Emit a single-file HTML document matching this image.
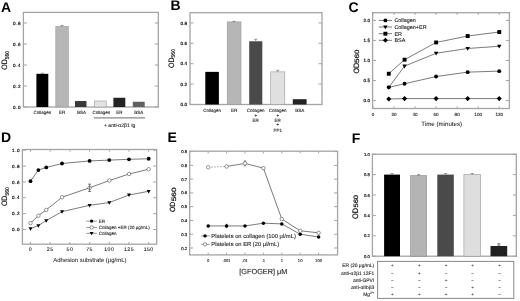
<!DOCTYPE html>
<html><head><meta charset="utf-8"><style>
html,body{margin:0;padding:0;background:#fff;width:520px;height:301px;overflow:hidden}
svg{display:block;font-family:"Liberation Sans", sans-serif;will-change:transform;text-rendering:geometricPrecision}
text.t{stroke:#222;stroke-width:0.1px}
</style></head><body>
<svg width="520" height="301" viewBox="0 0 520 301">
<rect width="520" height="301" fill="#fff"/>
<text x="1.00" y="11.60" font-size="14" font-weight="bold" fill="#000">A</text>
<rect x="23.40" y="12.40" width="134.90" height="94.60" fill="none" stroke="#a4a4a4" stroke-width="1.3"/>
<line x1="23.40" y1="107.00" x2="26.90" y2="107.00" stroke="#a4a4a4" stroke-width="1.0"/>
<line x1="158.30" y1="107.00" x2="154.80" y2="107.00" stroke="#a4a4a4" stroke-width="1.0"/>
<text class="t" x="21.00" y="108.66" font-size="4.6" text-anchor="end" fill="#000" font-weight="normal" letter-spacing="0.5" style="stroke:#000;stroke-width:0.16px">0.0</text>
<line x1="23.40" y1="86.00" x2="26.90" y2="86.00" stroke="#a4a4a4" stroke-width="1.0"/>
<line x1="158.30" y1="86.00" x2="154.80" y2="86.00" stroke="#a4a4a4" stroke-width="1.0"/>
<text class="t" x="21.00" y="87.66" font-size="4.6" text-anchor="end" fill="#000" font-weight="normal" letter-spacing="0.5" style="stroke:#000;stroke-width:0.16px">0.2</text>
<line x1="23.40" y1="65.00" x2="26.90" y2="65.00" stroke="#a4a4a4" stroke-width="1.0"/>
<line x1="158.30" y1="65.00" x2="154.80" y2="65.00" stroke="#a4a4a4" stroke-width="1.0"/>
<text class="t" x="21.00" y="66.66" font-size="4.6" text-anchor="end" fill="#000" font-weight="normal" letter-spacing="0.5" style="stroke:#000;stroke-width:0.16px">0.4</text>
<line x1="23.40" y1="44.00" x2="26.90" y2="44.00" stroke="#a4a4a4" stroke-width="1.0"/>
<line x1="158.30" y1="44.00" x2="154.80" y2="44.00" stroke="#a4a4a4" stroke-width="1.0"/>
<text class="t" x="21.00" y="45.66" font-size="4.6" text-anchor="end" fill="#000" font-weight="normal" letter-spacing="0.5" style="stroke:#000;stroke-width:0.16px">0.6</text>
<line x1="23.40" y1="23.00" x2="26.90" y2="23.00" stroke="#a4a4a4" stroke-width="1.0"/>
<line x1="158.30" y1="23.00" x2="154.80" y2="23.00" stroke="#a4a4a4" stroke-width="1.0"/>
<text class="t" x="21.00" y="24.66" font-size="4.6" text-anchor="end" fill="#000" font-weight="normal" letter-spacing="0.5" style="stroke:#000;stroke-width:0.16px">0.8</text>
<text transform="translate(7.40,60.30) rotate(-90) scale(1,1.12)" font-size="7.0" fill="#111" stroke="#111" stroke-width="0.15" text-anchor="middle">OD<tspan font-size="5.0" dy="1.2">560</tspan></text>
<rect x="36.40" y="73.82" width="11.90" height="33.18" fill="#000"/>
<rect x="55.80" y="26.47" width="12.50" height="80.53" fill="#b6b6b6" stroke="#999" stroke-width="0.6"/>
<rect x="75.00" y="101.02" width="11.50" height="5.98" fill="#3a3a3a"/>
<rect x="94.30" y="101.02" width="11.90" height="5.98" fill="#e4e4e4" stroke="#999" stroke-width="0.6"/>
<rect x="113.40" y="97.76" width="11.90" height="9.24" fill="#222"/>
<rect x="132.80" y="101.75" width="11.90" height="5.25" fill="#606060"/>
<line x1="42.35" y1="73.82" x2="42.35" y2="73.19" stroke="#444" stroke-width="0.5"/>
<line x1="40.75" y1="73.19" x2="43.95" y2="73.19" stroke="#444" stroke-width="0.5"/>
<line x1="61.95" y1="26.47" x2="61.95" y2="25.41" stroke="#444" stroke-width="0.5"/>
<line x1="60.35" y1="25.41" x2="63.55" y2="25.41" stroke="#444" stroke-width="0.5"/>
<text class="t" x="42.35" y="113.80" font-size="4.5" text-anchor="middle" fill="#222" font-weight="normal" >Collagen</text>
<text class="t" x="62.05" y="113.80" font-size="4.5" text-anchor="middle" fill="#222" font-weight="normal" >ER</text>
<text class="t" x="81.55" y="113.80" font-size="4.5" text-anchor="middle" fill="#222" font-weight="normal" >BSA</text>
<text class="t" x="101.45" y="113.80" font-size="4.5" text-anchor="middle" fill="#222" font-weight="normal" >Collagen</text>
<text class="t" x="119.35" y="113.80" font-size="4.5" text-anchor="middle" fill="#222" font-weight="normal" >ER</text>
<text class="t" x="138.75" y="113.80" font-size="4.5" text-anchor="middle" fill="#222" font-weight="normal" >BSA</text>
<line x1="93.80" y1="117.80" x2="145.10" y2="117.80" stroke="#888" stroke-width="1.2"/>
<text class="t" x="119.70" y="126.80" font-size="5.1" text-anchor="middle" fill="#222" font-weight="normal" >+ anti-α2β1 Ig</text>
<text x="170.50" y="10.20" font-size="14" font-weight="bold" fill="#000">B</text>
<rect x="190.00" y="12.70" width="132.00" height="91.80" fill="none" stroke="#a4a4a4" stroke-width="1.3"/>
<line x1="190.00" y1="104.50" x2="193.50" y2="104.50" stroke="#a4a4a4" stroke-width="1.0"/>
<line x1="322.00" y1="104.50" x2="318.50" y2="104.50" stroke="#a4a4a4" stroke-width="1.0"/>
<text class="t" x="187.00" y="106.16" font-size="4.6" text-anchor="end" fill="#000" font-weight="normal" style="stroke:#000;stroke-width:0.16px">0.0</text>
<line x1="190.00" y1="84.10" x2="193.50" y2="84.10" stroke="#a4a4a4" stroke-width="1.0"/>
<line x1="322.00" y1="84.10" x2="318.50" y2="84.10" stroke="#a4a4a4" stroke-width="1.0"/>
<text class="t" x="187.00" y="85.76" font-size="4.6" text-anchor="end" fill="#000" font-weight="normal" style="stroke:#000;stroke-width:0.16px">0.2</text>
<line x1="190.00" y1="63.70" x2="193.50" y2="63.70" stroke="#a4a4a4" stroke-width="1.0"/>
<line x1="322.00" y1="63.70" x2="318.50" y2="63.70" stroke="#a4a4a4" stroke-width="1.0"/>
<text class="t" x="187.00" y="65.36" font-size="4.6" text-anchor="end" fill="#000" font-weight="normal" style="stroke:#000;stroke-width:0.16px">0.4</text>
<line x1="190.00" y1="43.30" x2="193.50" y2="43.30" stroke="#a4a4a4" stroke-width="1.0"/>
<line x1="322.00" y1="43.30" x2="318.50" y2="43.30" stroke="#a4a4a4" stroke-width="1.0"/>
<text class="t" x="187.00" y="44.96" font-size="4.6" text-anchor="end" fill="#000" font-weight="normal" style="stroke:#000;stroke-width:0.16px">0.6</text>
<line x1="190.00" y1="22.90" x2="193.50" y2="22.90" stroke="#a4a4a4" stroke-width="1.0"/>
<line x1="322.00" y1="22.90" x2="318.50" y2="22.90" stroke="#a4a4a4" stroke-width="1.0"/>
<text class="t" x="187.00" y="24.56" font-size="4.6" text-anchor="end" fill="#000" font-weight="normal" style="stroke:#000;stroke-width:0.16px">0.8</text>
<text transform="translate(173.80,58.50) rotate(-90) scale(1,1.12)" font-size="7.0" fill="#111" stroke="#111" stroke-width="0.15" text-anchor="middle">OD<tspan font-size="5.0" dy="1.2">560</tspan></text>
<rect x="205.30" y="71.86" width="13.60" height="32.64" fill="#000"/>
<rect x="227.20" y="21.88" width="13.80" height="82.62" fill="#b6b6b6" stroke="#999" stroke-width="0.6"/>
<rect x="249.20" y="41.26" width="13.10" height="63.24" fill="#4a4a4a"/>
<rect x="270.70" y="71.86" width="14.10" height="32.64" fill="#e0e0e0" stroke="#999" stroke-width="0.6"/>
<rect x="292.80" y="99.20" width="13.80" height="5.30" fill="#222"/>
<line x1="234.10" y1="21.88" x2="234.10" y2="21.37" stroke="#444" stroke-width="0.5"/>
<line x1="232.50" y1="21.37" x2="235.70" y2="21.37" stroke="#444" stroke-width="0.5"/>
<line x1="255.75" y1="41.26" x2="255.75" y2="39.22" stroke="#444" stroke-width="0.5"/>
<line x1="254.15" y1="39.22" x2="257.35" y2="39.22" stroke="#444" stroke-width="0.5"/>
<line x1="277.75" y1="71.86" x2="277.75" y2="70.33" stroke="#444" stroke-width="0.5"/>
<line x1="276.15" y1="70.33" x2="279.35" y2="70.33" stroke="#444" stroke-width="0.5"/>
<text class="t" x="212.10" y="112.10" font-size="4.5" text-anchor="middle" fill="#222" font-weight="normal" >Collagen</text>
<text class="t" x="234.10" y="112.10" font-size="4.5" text-anchor="middle" fill="#222" font-weight="normal" >ER</text>
<text class="t" x="255.75" y="112.10" font-size="4.5" text-anchor="middle" fill="#222" font-weight="normal" >Collagen</text>
<text class="t" x="255.75" y="116.60" font-size="4.5" text-anchor="middle" fill="#222" font-weight="normal" >+</text>
<text class="t" x="255.75" y="121.80" font-size="4.5" text-anchor="middle" fill="#222" font-weight="normal" >ER</text>
<text class="t" x="277.75" y="112.10" font-size="4.5" text-anchor="middle" fill="#222" font-weight="normal" >Collagen</text>
<text class="t" x="277.75" y="116.60" font-size="4.5" text-anchor="middle" fill="#222" font-weight="normal" >+</text>
<text class="t" x="277.75" y="121.80" font-size="4.5" text-anchor="middle" fill="#222" font-weight="normal" >ER</text>
<text class="t" x="277.75" y="126.00" font-size="4.5" text-anchor="middle" fill="#222" font-weight="normal" >+</text>
<text class="t" x="277.75" y="131.60" font-size="4.5" text-anchor="middle" fill="#222" font-weight="normal" >PP1</text>
<text class="t" x="299.70" y="112.10" font-size="4.5" text-anchor="middle" fill="#222" font-weight="normal" >BSA</text>
<text x="348.60" y="11.60" font-size="14" font-weight="bold" fill="#000">C</text>
<rect x="372.60" y="12.70" width="136.80" height="95.80" fill="none" stroke="#a4a4a4" stroke-width="1.3"/>
<line x1="372.60" y1="100.60" x2="376.10" y2="100.60" stroke="#a4a4a4" stroke-width="1.0"/>
<line x1="509.40" y1="100.60" x2="505.90" y2="100.60" stroke="#a4a4a4" stroke-width="1.0"/>
<text class="t" x="370.00" y="102.26" font-size="4.6" text-anchor="end" fill="#000" font-weight="normal" style="stroke:#000;stroke-width:0.16px">0.0</text>
<line x1="372.60" y1="80.55" x2="376.10" y2="80.55" stroke="#a4a4a4" stroke-width="1.0"/>
<line x1="509.40" y1="80.55" x2="505.90" y2="80.55" stroke="#a4a4a4" stroke-width="1.0"/>
<text class="t" x="370.00" y="82.21" font-size="4.6" text-anchor="end" fill="#000" font-weight="normal" style="stroke:#000;stroke-width:0.16px">0.5</text>
<line x1="372.60" y1="60.50" x2="376.10" y2="60.50" stroke="#a4a4a4" stroke-width="1.0"/>
<line x1="509.40" y1="60.50" x2="505.90" y2="60.50" stroke="#a4a4a4" stroke-width="1.0"/>
<text class="t" x="370.00" y="62.16" font-size="4.6" text-anchor="end" fill="#000" font-weight="normal" style="stroke:#000;stroke-width:0.16px">1.0</text>
<line x1="372.60" y1="40.45" x2="376.10" y2="40.45" stroke="#a4a4a4" stroke-width="1.0"/>
<line x1="509.40" y1="40.45" x2="505.90" y2="40.45" stroke="#a4a4a4" stroke-width="1.0"/>
<text class="t" x="370.00" y="42.11" font-size="4.6" text-anchor="end" fill="#000" font-weight="normal" style="stroke:#000;stroke-width:0.16px">1.5</text>
<line x1="372.60" y1="20.40" x2="376.10" y2="20.40" stroke="#a4a4a4" stroke-width="1.0"/>
<line x1="509.40" y1="20.40" x2="505.90" y2="20.40" stroke="#a4a4a4" stroke-width="1.0"/>
<text class="t" x="370.00" y="22.06" font-size="4.6" text-anchor="end" fill="#000" font-weight="normal" style="stroke:#000;stroke-width:0.16px">2.0</text>
<line x1="373.00" y1="108.50" x2="373.00" y2="106.30" stroke="#a4a4a4" stroke-width="1.0"/>
<line x1="373.00" y1="12.70" x2="373.00" y2="14.90" stroke="#a4a4a4" stroke-width="1.0"/>
<text class="t" x="373.00" y="115.60" font-size="4.6" text-anchor="middle" fill="#222" font-weight="normal" >0</text>
<line x1="394.04" y1="108.50" x2="394.04" y2="106.30" stroke="#a4a4a4" stroke-width="1.0"/>
<line x1="394.04" y1="12.70" x2="394.04" y2="14.90" stroke="#a4a4a4" stroke-width="1.0"/>
<text class="t" x="394.04" y="115.60" font-size="4.6" text-anchor="middle" fill="#222" font-weight="normal" >20</text>
<line x1="415.08" y1="108.50" x2="415.08" y2="106.30" stroke="#a4a4a4" stroke-width="1.0"/>
<line x1="415.08" y1="12.70" x2="415.08" y2="14.90" stroke="#a4a4a4" stroke-width="1.0"/>
<text class="t" x="415.08" y="115.60" font-size="4.6" text-anchor="middle" fill="#222" font-weight="normal" >40</text>
<line x1="436.12" y1="108.50" x2="436.12" y2="106.30" stroke="#a4a4a4" stroke-width="1.0"/>
<line x1="436.12" y1="12.70" x2="436.12" y2="14.90" stroke="#a4a4a4" stroke-width="1.0"/>
<text class="t" x="436.12" y="115.60" font-size="4.6" text-anchor="middle" fill="#222" font-weight="normal" >60</text>
<line x1="457.16" y1="108.50" x2="457.16" y2="106.30" stroke="#a4a4a4" stroke-width="1.0"/>
<line x1="457.16" y1="12.70" x2="457.16" y2="14.90" stroke="#a4a4a4" stroke-width="1.0"/>
<text class="t" x="457.16" y="115.60" font-size="4.6" text-anchor="middle" fill="#222" font-weight="normal" >80</text>
<line x1="478.20" y1="108.50" x2="478.20" y2="106.30" stroke="#a4a4a4" stroke-width="1.0"/>
<line x1="478.20" y1="12.70" x2="478.20" y2="14.90" stroke="#a4a4a4" stroke-width="1.0"/>
<text class="t" x="478.20" y="115.60" font-size="4.6" text-anchor="middle" fill="#222" font-weight="normal" >100</text>
<line x1="499.24" y1="108.50" x2="499.24" y2="106.30" stroke="#a4a4a4" stroke-width="1.0"/>
<line x1="499.24" y1="12.70" x2="499.24" y2="14.90" stroke="#a4a4a4" stroke-width="1.0"/>
<text class="t" x="499.24" y="115.60" font-size="4.6" text-anchor="middle" fill="#222" font-weight="normal" >120</text>
<text transform="translate(358.50,73.60) rotate(-90) scale(1,1.08)" font-size="7.2" fill="#111" stroke="#111" stroke-width="0.2">OD</text>
<text transform="translate(358.50,63.10) rotate(-90) scale(1,0.78)" font-size="8.0" fill="#111" stroke="#111" stroke-width="0.3" textLength="13.6" lengthAdjust="spacingAndGlyphs">560</text>
<text class="t" x="441.70" y="125.80" font-size="6.15" text-anchor="middle" fill="#222" font-weight="normal" style="stroke-width:0.05px">Time (minutes)</text>
<path d="M388.78,73.73 L404.56,59.70 L436.12,42.45 L467.68,36.04 L499.24,32.03" fill="none" stroke="#333" stroke-width="0.65"/>
<rect x="386.83" y="71.78" width="3.90" height="3.90" fill="#000"/>
<rect x="402.61" y="57.75" width="3.90" height="3.90" fill="#000"/>
<rect x="434.17" y="40.50" width="3.90" height="3.90" fill="#000"/>
<rect x="465.73" y="34.09" width="3.90" height="3.90" fill="#000"/>
<rect x="497.29" y="30.08" width="3.90" height="3.90" fill="#000"/>
<path d="M388.78,87.37 L404.56,66.11 L436.12,53.28 L467.68,48.47 L499.24,46.26" fill="none" stroke="#333" stroke-width="0.65"/>
<path d="M386.54,85.81 L391.02,85.81 L388.78,89.71Z" fill="#000"/>
<path d="M402.32,64.55 L406.80,64.55 L404.56,68.45Z" fill="#000"/>
<path d="M433.88,51.72 L438.36,51.72 L436.12,55.62Z" fill="#000"/>
<path d="M465.44,46.91 L469.92,46.91 L467.68,50.81Z" fill="#000"/>
<path d="M497.00,44.70 L501.48,44.70 L499.24,48.60Z" fill="#000"/>
<path d="M388.78,87.37 L404.56,83.76 L436.12,76.54 L467.68,72.13 L499.24,71.13" fill="none" stroke="#333" stroke-width="0.65"/>
<circle cx="388.78" cy="87.37" r="1.95" fill="#000"/>
<circle cx="404.56" cy="83.76" r="1.95" fill="#000"/>
<circle cx="436.12" cy="76.54" r="1.95" fill="#000"/>
<circle cx="467.68" cy="72.13" r="1.95" fill="#000"/>
<circle cx="499.24" cy="71.13" r="1.95" fill="#000"/>
<path d="M388.78,99.00 L404.56,98.59 L436.12,98.59 L467.68,98.59 L499.24,98.59" fill="none" stroke="#333" stroke-width="0.65"/>
<path d="M388.78,96.46 L391.31,99.00 L388.78,101.53 L386.24,99.00Z" fill="#000"/>
<path d="M404.56,96.06 L407.10,98.59 L404.56,101.13 L402.02,98.59Z" fill="#000"/>
<path d="M436.12,96.06 L438.66,98.59 L436.12,101.13 L433.58,98.59Z" fill="#000"/>
<path d="M467.68,96.06 L470.22,98.59 L467.68,101.13 L465.14,98.59Z" fill="#000"/>
<path d="M499.24,96.06 L501.78,98.59 L499.24,101.13 L496.70,98.59Z" fill="#000"/>
<line x1="378.80" y1="20.40" x2="392.00" y2="20.40" stroke="#333" stroke-width="0.65"/>
<circle cx="385.40" cy="20.40" r="1.95" fill="#000"/>
<text class="t" x="394.40" y="22.40" font-size="5.45" text-anchor="start" fill="#222" font-weight="normal" >Collagen</text>
<line x1="378.80" y1="27.00" x2="392.00" y2="27.00" stroke="#333" stroke-width="0.65"/>
<path d="M383.16,25.44 L387.64,25.44 L385.40,29.34Z" fill="#000"/>
<text class="t" x="394.40" y="29.00" font-size="5.45" text-anchor="start" fill="#222" font-weight="normal" >Collagen+ER</text>
<line x1="378.80" y1="33.70" x2="392.00" y2="33.70" stroke="#333" stroke-width="0.65"/>
<rect x="383.45" y="31.75" width="3.90" height="3.90" fill="#000"/>
<text class="t" x="394.40" y="35.70" font-size="5.45" text-anchor="start" fill="#222" font-weight="normal" >ER</text>
<line x1="378.80" y1="40.30" x2="392.00" y2="40.30" stroke="#333" stroke-width="0.65"/>
<path d="M385.40,37.77 L387.94,40.30 L385.40,42.83 L382.86,40.30Z" fill="#000"/>
<text class="t" x="394.40" y="42.30" font-size="5.45" text-anchor="start" fill="#222" font-weight="normal" >BSA</text>
<text x="1.00" y="141.90" font-size="14" font-weight="bold" fill="#000">D</text>
<rect x="22.40" y="149.50" width="134.30" height="94.70" fill="none" stroke="#a4a4a4" stroke-width="1.3"/>
<line x1="22.40" y1="229.50" x2="25.90" y2="229.50" stroke="#a4a4a4" stroke-width="1.0"/>
<line x1="156.70" y1="229.50" x2="153.20" y2="229.50" stroke="#a4a4a4" stroke-width="1.0"/>
<text class="t" x="20.00" y="231.16" font-size="4.6" text-anchor="end" fill="#000" font-weight="normal" letter-spacing="0.5" style="stroke:#000;stroke-width:0.16px">0.0</text>
<line x1="22.40" y1="213.64" x2="25.90" y2="213.64" stroke="#a4a4a4" stroke-width="1.0"/>
<line x1="156.70" y1="213.64" x2="153.20" y2="213.64" stroke="#a4a4a4" stroke-width="1.0"/>
<text class="t" x="20.00" y="215.30" font-size="4.6" text-anchor="end" fill="#000" font-weight="normal" letter-spacing="0.5" style="stroke:#000;stroke-width:0.16px">0.2</text>
<line x1="22.40" y1="197.78" x2="25.90" y2="197.78" stroke="#a4a4a4" stroke-width="1.0"/>
<line x1="156.70" y1="197.78" x2="153.20" y2="197.78" stroke="#a4a4a4" stroke-width="1.0"/>
<text class="t" x="20.00" y="199.44" font-size="4.6" text-anchor="end" fill="#000" font-weight="normal" letter-spacing="0.5" style="stroke:#000;stroke-width:0.16px">0.4</text>
<line x1="22.40" y1="181.92" x2="25.90" y2="181.92" stroke="#a4a4a4" stroke-width="1.0"/>
<line x1="156.70" y1="181.92" x2="153.20" y2="181.92" stroke="#a4a4a4" stroke-width="1.0"/>
<text class="t" x="20.00" y="183.58" font-size="4.6" text-anchor="end" fill="#000" font-weight="normal" letter-spacing="0.5" style="stroke:#000;stroke-width:0.16px">0.6</text>
<line x1="22.40" y1="166.06" x2="25.90" y2="166.06" stroke="#a4a4a4" stroke-width="1.0"/>
<line x1="156.70" y1="166.06" x2="153.20" y2="166.06" stroke="#a4a4a4" stroke-width="1.0"/>
<text class="t" x="20.00" y="167.72" font-size="4.6" text-anchor="end" fill="#000" font-weight="normal" letter-spacing="0.5" style="stroke:#000;stroke-width:0.16px">0.8</text>
<line x1="22.40" y1="150.20" x2="25.90" y2="150.20" stroke="#a4a4a4" stroke-width="1.0"/>
<line x1="156.70" y1="150.20" x2="153.20" y2="150.20" stroke="#a4a4a4" stroke-width="1.0"/>
<text class="t" x="20.00" y="151.86" font-size="4.6" text-anchor="end" fill="#000" font-weight="normal" letter-spacing="0.5" style="stroke:#000;stroke-width:0.16px">1.0</text>
<line x1="30.50" y1="244.20" x2="30.50" y2="242.00" stroke="#a4a4a4" stroke-width="1.0"/>
<line x1="30.50" y1="149.50" x2="30.50" y2="151.70" stroke="#a4a4a4" stroke-width="1.0"/>
<text class="t" x="30.50" y="251.40" font-size="5.2" text-anchor="middle" fill="#222" font-weight="normal" letter-spacing="0.45">0</text>
<line x1="50.20" y1="244.20" x2="50.20" y2="242.00" stroke="#a4a4a4" stroke-width="1.0"/>
<line x1="50.20" y1="149.50" x2="50.20" y2="151.70" stroke="#a4a4a4" stroke-width="1.0"/>
<text class="t" x="50.20" y="251.40" font-size="5.2" text-anchor="middle" fill="#222" font-weight="normal" letter-spacing="0.45">25</text>
<line x1="69.90" y1="244.20" x2="69.90" y2="242.00" stroke="#a4a4a4" stroke-width="1.0"/>
<line x1="69.90" y1="149.50" x2="69.90" y2="151.70" stroke="#a4a4a4" stroke-width="1.0"/>
<text class="t" x="69.90" y="251.40" font-size="5.2" text-anchor="middle" fill="#222" font-weight="normal" letter-spacing="0.45">50</text>
<line x1="89.60" y1="244.20" x2="89.60" y2="242.00" stroke="#a4a4a4" stroke-width="1.0"/>
<line x1="89.60" y1="149.50" x2="89.60" y2="151.70" stroke="#a4a4a4" stroke-width="1.0"/>
<text class="t" x="89.60" y="251.40" font-size="5.2" text-anchor="middle" fill="#222" font-weight="normal" letter-spacing="0.45">75</text>
<line x1="109.30" y1="244.20" x2="109.30" y2="242.00" stroke="#a4a4a4" stroke-width="1.0"/>
<line x1="109.30" y1="149.50" x2="109.30" y2="151.70" stroke="#a4a4a4" stroke-width="1.0"/>
<text class="t" x="109.30" y="251.40" font-size="5.2" text-anchor="middle" fill="#222" font-weight="normal" letter-spacing="0.45">100</text>
<line x1="129.00" y1="244.20" x2="129.00" y2="242.00" stroke="#a4a4a4" stroke-width="1.0"/>
<line x1="129.00" y1="149.50" x2="129.00" y2="151.70" stroke="#a4a4a4" stroke-width="1.0"/>
<text class="t" x="129.00" y="251.40" font-size="5.2" text-anchor="middle" fill="#222" font-weight="normal" letter-spacing="0.45">125</text>
<line x1="148.70" y1="244.20" x2="148.70" y2="242.00" stroke="#a4a4a4" stroke-width="1.0"/>
<line x1="148.70" y1="149.50" x2="148.70" y2="151.70" stroke="#a4a4a4" stroke-width="1.0"/>
<text class="t" x="148.70" y="251.40" font-size="5.2" text-anchor="middle" fill="#222" font-weight="normal" letter-spacing="0.45">150</text>
<text transform="translate(7.40,196.70) rotate(-90) scale(1,1.12)" font-size="7.0" fill="#111" stroke="#111" stroke-width="0.15" text-anchor="middle">OD<tspan font-size="5.0" dy="1.2">560</tspan></text>
<text class="t" x="89.90" y="262.40" font-size="5.95" text-anchor="middle" fill="#222" font-weight="normal" style="stroke-width:0.05px">Adhesion substrate (μg/mL)</text>
<path d="M30.50,181.13 L38.38,170.03 L46.26,167.41 L62.02,163.52 L89.60,160.91 L109.30,160.11 L129.00,159.32 L148.70,158.76" fill="none" stroke="#333" stroke-width="0.65"/>
<circle cx="30.50" cy="181.13" r="1.90" fill="#000"/>
<circle cx="38.38" cy="170.03" r="1.90" fill="#000"/>
<circle cx="46.26" cy="167.41" r="1.90" fill="#000"/>
<circle cx="62.02" cy="163.52" r="1.90" fill="#000"/>
<circle cx="89.60" cy="160.91" r="1.90" fill="#000"/>
<circle cx="109.30" cy="160.11" r="1.90" fill="#000"/>
<circle cx="129.00" cy="159.32" r="1.90" fill="#000"/>
<circle cx="148.70" cy="158.76" r="1.90" fill="#000"/>
<path d="M30.50,223.16 L38.38,215.70 L46.26,209.91 L62.02,197.22 L89.60,187.79 L109.30,180.57 L129.00,173.99 L148.70,169.23" fill="none" stroke="#333" stroke-width="0.65"/>
<circle cx="30.50" cy="223.16" r="1.75" fill="#fff" stroke="#333" stroke-width="0.5"/>
<circle cx="38.38" cy="215.70" r="1.75" fill="#fff" stroke="#333" stroke-width="0.5"/>
<circle cx="46.26" cy="209.91" r="1.75" fill="#fff" stroke="#333" stroke-width="0.5"/>
<circle cx="62.02" cy="197.22" r="1.75" fill="#fff" stroke="#333" stroke-width="0.5"/>
<circle cx="89.60" cy="187.79" r="1.75" fill="#fff" stroke="#333" stroke-width="0.5"/>
<circle cx="109.30" cy="180.57" r="1.75" fill="#fff" stroke="#333" stroke-width="0.5"/>
<circle cx="129.00" cy="173.99" r="1.75" fill="#fff" stroke="#333" stroke-width="0.5"/>
<circle cx="148.70" cy="169.23" r="1.75" fill="#fff" stroke="#333" stroke-width="0.5"/>
<path d="M30.50,228.71 L38.38,225.53 L46.26,220.54 L62.02,211.66 L89.60,205.31 L109.30,202.54 L129.00,195.00 L148.70,191.28" fill="none" stroke="#333" stroke-width="0.65"/>
<path d="M28.49,227.31 L32.51,227.31 L30.50,230.81Z" fill="#000"/>
<path d="M36.37,224.13 L40.39,224.13 L38.38,227.63Z" fill="#000"/>
<path d="M44.25,219.14 L48.27,219.14 L46.26,222.64Z" fill="#000"/>
<path d="M60.01,210.26 L64.03,210.26 L62.02,213.76Z" fill="#000"/>
<path d="M87.59,203.91 L91.61,203.91 L89.60,207.41Z" fill="#000"/>
<path d="M107.29,201.14 L111.31,201.14 L109.30,204.64Z" fill="#000"/>
<path d="M126.99,193.60 L131.01,193.60 L129.00,197.10Z" fill="#000"/>
<path d="M146.69,189.88 L150.71,189.88 L148.70,193.38Z" fill="#000"/>
<line x1="89.60" y1="187.79" x2="89.60" y2="184.14" stroke="#444" stroke-width="0.7"/>
<line x1="88.10" y1="184.14" x2="91.10" y2="184.14" stroke="#444" stroke-width="0.7"/>
<line x1="89.60" y1="187.79" x2="89.60" y2="191.44" stroke="#444" stroke-width="0.7"/>
<line x1="88.10" y1="191.44" x2="91.10" y2="191.44" stroke="#444" stroke-width="0.7"/>
<line x1="86.30" y1="221.10" x2="97.00" y2="221.10" stroke="#444" stroke-width="0.55"/>
<circle cx="91.60" cy="221.10" r="1.70" fill="#000"/>
<text class="t" x="98.80" y="222.70" font-size="4.5" text-anchor="start" fill="#222" font-weight="normal" >ER</text>
<line x1="86.30" y1="227.50" x2="97.00" y2="227.50" stroke="#444" stroke-width="0.55"/>
<circle cx="91.60" cy="227.50" r="1.70" fill="#fff" stroke="#333" stroke-width="0.5"/>
<text class="t" x="98.80" y="229.10" font-size="4.5" text-anchor="start" fill="#222" font-weight="normal" >Collagen +ER (20 μg/mL)</text>
<line x1="86.30" y1="233.30" x2="97.00" y2="233.30" stroke="#444" stroke-width="0.55"/>
<path d="M89.64,231.94 L93.55,231.94 L91.60,235.34Z" fill="#000"/>
<text class="t" x="98.80" y="234.90" font-size="4.5" text-anchor="start" fill="#222" font-weight="normal" >Collagen</text>
<text x="167.50" y="141.70" font-size="14" font-weight="bold" fill="#000">E</text>
<rect x="189.70" y="151.20" width="147.90" height="103.70" fill="none" stroke="#a4a4a4" stroke-width="1.3"/>
<line x1="189.70" y1="247.99" x2="193.20" y2="247.99" stroke="#a4a4a4" stroke-width="1.0"/>
<line x1="337.60" y1="247.99" x2="334.10" y2="247.99" stroke="#a4a4a4" stroke-width="1.0"/>
<text class="t" x="187.10" y="249.50" font-size="4.2" text-anchor="end" fill="#000" font-weight="normal" style="stroke:#000;stroke-width:0.16px">0.2</text>
<line x1="189.70" y1="234.22" x2="193.20" y2="234.22" stroke="#a4a4a4" stroke-width="1.0"/>
<line x1="337.60" y1="234.22" x2="334.10" y2="234.22" stroke="#a4a4a4" stroke-width="1.0"/>
<text class="t" x="187.10" y="235.73" font-size="4.2" text-anchor="end" fill="#000" font-weight="normal" style="stroke:#000;stroke-width:0.16px">0.3</text>
<line x1="189.70" y1="220.45" x2="193.20" y2="220.45" stroke="#a4a4a4" stroke-width="1.0"/>
<line x1="337.60" y1="220.45" x2="334.10" y2="220.45" stroke="#a4a4a4" stroke-width="1.0"/>
<text class="t" x="187.10" y="221.96" font-size="4.2" text-anchor="end" fill="#000" font-weight="normal" style="stroke:#000;stroke-width:0.16px">0.4</text>
<line x1="189.70" y1="206.68" x2="193.20" y2="206.68" stroke="#a4a4a4" stroke-width="1.0"/>
<line x1="337.60" y1="206.68" x2="334.10" y2="206.68" stroke="#a4a4a4" stroke-width="1.0"/>
<text class="t" x="187.10" y="208.19" font-size="4.2" text-anchor="end" fill="#000" font-weight="normal" style="stroke:#000;stroke-width:0.16px">0.5</text>
<line x1="189.70" y1="192.91" x2="193.20" y2="192.91" stroke="#a4a4a4" stroke-width="1.0"/>
<line x1="337.60" y1="192.91" x2="334.10" y2="192.91" stroke="#a4a4a4" stroke-width="1.0"/>
<text class="t" x="187.10" y="194.42" font-size="4.2" text-anchor="end" fill="#000" font-weight="normal" style="stroke:#000;stroke-width:0.16px">0.6</text>
<line x1="189.70" y1="179.14" x2="193.20" y2="179.14" stroke="#a4a4a4" stroke-width="1.0"/>
<line x1="337.60" y1="179.14" x2="334.10" y2="179.14" stroke="#a4a4a4" stroke-width="1.0"/>
<text class="t" x="187.10" y="180.65" font-size="4.2" text-anchor="end" fill="#000" font-weight="normal" style="stroke:#000;stroke-width:0.16px">0.7</text>
<line x1="189.70" y1="165.37" x2="193.20" y2="165.37" stroke="#a4a4a4" stroke-width="1.0"/>
<line x1="337.60" y1="165.37" x2="334.10" y2="165.37" stroke="#a4a4a4" stroke-width="1.0"/>
<text class="t" x="187.10" y="166.88" font-size="4.2" text-anchor="end" fill="#000" font-weight="normal" style="stroke:#000;stroke-width:0.16px">0.8</text>
<line x1="189.70" y1="151.60" x2="193.20" y2="151.60" stroke="#a4a4a4" stroke-width="1.0"/>
<line x1="337.60" y1="151.60" x2="334.10" y2="151.60" stroke="#a4a4a4" stroke-width="1.0"/>
<text class="t" x="187.10" y="153.11" font-size="4.2" text-anchor="end" fill="#000" font-weight="normal" style="stroke:#000;stroke-width:0.16px">0.9</text>
<line x1="208.20" y1="254.90" x2="208.20" y2="252.70" stroke="#a4a4a4" stroke-width="1.0"/>
<line x1="208.20" y1="151.20" x2="208.20" y2="153.40" stroke="#a4a4a4" stroke-width="1.0"/>
<text class="t" x="208.20" y="261.50" font-size="4.2" text-anchor="middle" fill="#222" font-weight="normal" >0</text>
<line x1="226.60" y1="254.90" x2="226.60" y2="252.70" stroke="#a4a4a4" stroke-width="1.0"/>
<line x1="226.60" y1="151.20" x2="226.60" y2="153.40" stroke="#a4a4a4" stroke-width="1.0"/>
<text class="t" x="226.60" y="261.50" font-size="4.2" text-anchor="middle" fill="#222" font-weight="normal" >.001</text>
<line x1="245.00" y1="254.90" x2="245.00" y2="252.70" stroke="#a4a4a4" stroke-width="1.0"/>
<line x1="245.00" y1="151.20" x2="245.00" y2="153.40" stroke="#a4a4a4" stroke-width="1.0"/>
<text class="t" x="245.00" y="261.50" font-size="4.2" text-anchor="middle" fill="#222" font-weight="normal" >.01</text>
<line x1="263.40" y1="254.90" x2="263.40" y2="252.70" stroke="#a4a4a4" stroke-width="1.0"/>
<line x1="263.40" y1="151.20" x2="263.40" y2="153.40" stroke="#a4a4a4" stroke-width="1.0"/>
<text class="t" x="263.40" y="261.50" font-size="4.2" text-anchor="middle" fill="#222" font-weight="normal" >.1</text>
<line x1="281.80" y1="254.90" x2="281.80" y2="252.70" stroke="#a4a4a4" stroke-width="1.0"/>
<line x1="281.80" y1="151.20" x2="281.80" y2="153.40" stroke="#a4a4a4" stroke-width="1.0"/>
<text class="t" x="281.80" y="261.50" font-size="4.2" text-anchor="middle" fill="#222" font-weight="normal" >1</text>
<line x1="300.20" y1="254.90" x2="300.20" y2="252.70" stroke="#a4a4a4" stroke-width="1.0"/>
<line x1="300.20" y1="151.20" x2="300.20" y2="153.40" stroke="#a4a4a4" stroke-width="1.0"/>
<text class="t" x="300.20" y="261.50" font-size="4.2" text-anchor="middle" fill="#222" font-weight="normal" >10</text>
<line x1="318.60" y1="254.90" x2="318.60" y2="252.70" stroke="#a4a4a4" stroke-width="1.0"/>
<line x1="318.60" y1="151.20" x2="318.60" y2="153.40" stroke="#a4a4a4" stroke-width="1.0"/>
<text class="t" x="318.60" y="261.50" font-size="4.2" text-anchor="middle" fill="#222" font-weight="normal" >100</text>
<text transform="translate(175.40,212.10) rotate(-90) scale(1,1.08)" font-size="6.9" fill="#111" stroke="#111" stroke-width="0.2">OD</text>
<text transform="translate(175.90,201.30) rotate(-90) scale(1,0.78)" font-size="8.0" fill="#111" stroke="#111" stroke-width="0.3" textLength="13.8" lengthAdjust="spacingAndGlyphs">560</text>
<text class="t" x="263.30" y="273.50" font-size="7.3" text-anchor="middle" fill="#222" font-weight="normal" >[GFOGER] μM</text>
<line x1="226.60" y1="225.96" x2="226.60" y2="224.31" stroke="#444" stroke-width="0.6"/>
<line x1="225.60" y1="224.31" x2="227.60" y2="224.31" stroke="#444" stroke-width="0.6"/>
<line x1="226.60" y1="225.96" x2="226.60" y2="227.61" stroke="#444" stroke-width="0.6"/>
<line x1="225.60" y1="227.61" x2="227.60" y2="227.61" stroke="#444" stroke-width="0.6"/>
<path d="M208.20,225.96 L226.60,225.96 L245.00,225.96 L263.40,223.20 L281.80,223.89 L300.20,234.22 L318.60,236.97" fill="none" stroke="#333" stroke-width="0.65"/>
<circle cx="208.20" cy="225.96" r="1.75" fill="#000"/>
<circle cx="226.60" cy="225.96" r="1.75" fill="#000"/>
<circle cx="245.00" cy="225.96" r="1.75" fill="#000"/>
<circle cx="263.40" cy="223.20" r="1.75" fill="#000"/>
<circle cx="281.80" cy="223.89" r="1.75" fill="#000"/>
<circle cx="300.20" cy="234.22" r="1.75" fill="#000"/>
<circle cx="318.60" cy="236.97" r="1.75" fill="#000"/>
<path d="M208.20,167.30 L226.60,166.47" stroke="#666" stroke-width="0.6" stroke-dasharray="1.6,1.4" fill="none"/>
<line x1="245.00" y1="163.44" x2="245.00" y2="160.96" stroke="#444" stroke-width="0.6"/>
<line x1="243.80" y1="160.96" x2="246.20" y2="160.96" stroke="#444" stroke-width="0.6"/>
<line x1="245.00" y1="163.44" x2="245.00" y2="165.92" stroke="#444" stroke-width="0.6"/>
<line x1="243.80" y1="165.92" x2="246.20" y2="165.92" stroke="#444" stroke-width="0.6"/>
<path d="M226.60,166.47 L245.00,163.44 L263.40,168.12 L281.80,219.07 L300.20,230.78 L318.60,232.84" fill="none" stroke="#333" stroke-width="0.65"/>
<circle cx="226.60" cy="166.47" r="1.75" fill="#fff" stroke="#333" stroke-width="0.5"/>
<circle cx="245.00" cy="163.44" r="1.75" fill="#fff" stroke="#333" stroke-width="0.5"/>
<circle cx="263.40" cy="168.12" r="1.75" fill="#fff" stroke="#333" stroke-width="0.5"/>
<circle cx="281.80" cy="219.07" r="1.75" fill="#fff" stroke="#333" stroke-width="0.5"/>
<circle cx="300.20" cy="230.78" r="1.75" fill="#fff" stroke="#333" stroke-width="0.5"/>
<circle cx="318.60" cy="232.84" r="1.75" fill="#fff" stroke="#333" stroke-width="0.5"/>
<circle cx="208.20" cy="167.30" r="1.75" fill="#fff" stroke="#333" stroke-width="0.5"/>
<line x1="201.00" y1="235.90" x2="209.80" y2="235.90" stroke="#444" stroke-width="0.55"/>
<circle cx="205.00" cy="235.90" r="1.70" fill="#000"/>
<text class="t" x="211.30" y="237.90" font-size="5.8" text-anchor="start" fill="#222" font-weight="normal" >Platelets on collagen (100 μl/mL)</text>
<line x1="201.00" y1="244.30" x2="209.80" y2="244.30" stroke="#444" stroke-width="0.55"/>
<circle cx="205.00" cy="244.30" r="1.70" fill="#fff" stroke="#333" stroke-width="0.5"/>
<text class="t" x="211.30" y="246.30" font-size="5.8" text-anchor="start" fill="#222" font-weight="normal" >Platelets on ER (20 μl/mL)</text>
<text x="351.80" y="143.20" font-size="14" font-weight="bold" fill="#000">F</text>
<rect x="372.40" y="154.20" width="143.90" height="102.00" fill="none" stroke="#a4a4a4" stroke-width="1.3"/>
<line x1="372.40" y1="256.20" x2="375.90" y2="256.20" stroke="#a4a4a4" stroke-width="1.0"/>
<line x1="516.30" y1="256.20" x2="512.80" y2="256.20" stroke="#a4a4a4" stroke-width="1.0"/>
<text class="t" x="369.80" y="257.71" font-size="4.2" text-anchor="end" fill="#000" font-weight="normal" style="stroke:#000;stroke-width:0.16px">0.0</text>
<line x1="372.40" y1="235.80" x2="375.90" y2="235.80" stroke="#a4a4a4" stroke-width="1.0"/>
<line x1="516.30" y1="235.80" x2="512.80" y2="235.80" stroke="#a4a4a4" stroke-width="1.0"/>
<text class="t" x="369.80" y="237.31" font-size="4.2" text-anchor="end" fill="#000" font-weight="normal" style="stroke:#000;stroke-width:0.16px">0.2</text>
<line x1="372.40" y1="215.40" x2="375.90" y2="215.40" stroke="#a4a4a4" stroke-width="1.0"/>
<line x1="516.30" y1="215.40" x2="512.80" y2="215.40" stroke="#a4a4a4" stroke-width="1.0"/>
<text class="t" x="369.80" y="216.91" font-size="4.2" text-anchor="end" fill="#000" font-weight="normal" style="stroke:#000;stroke-width:0.16px">0.4</text>
<line x1="372.40" y1="195.00" x2="375.90" y2="195.00" stroke="#a4a4a4" stroke-width="1.0"/>
<line x1="516.30" y1="195.00" x2="512.80" y2="195.00" stroke="#a4a4a4" stroke-width="1.0"/>
<text class="t" x="369.80" y="196.51" font-size="4.2" text-anchor="end" fill="#000" font-weight="normal" style="stroke:#000;stroke-width:0.16px">0.6</text>
<line x1="372.40" y1="174.60" x2="375.90" y2="174.60" stroke="#a4a4a4" stroke-width="1.0"/>
<line x1="516.30" y1="174.60" x2="512.80" y2="174.60" stroke="#a4a4a4" stroke-width="1.0"/>
<text class="t" x="369.80" y="176.11" font-size="4.2" text-anchor="end" fill="#000" font-weight="normal" style="stroke:#000;stroke-width:0.16px">0.8</text>
<line x1="372.40" y1="154.20" x2="375.90" y2="154.20" stroke="#a4a4a4" stroke-width="1.0"/>
<line x1="516.30" y1="154.20" x2="512.80" y2="154.20" stroke="#a4a4a4" stroke-width="1.0"/>
<text class="t" x="369.80" y="155.71" font-size="4.2" text-anchor="end" fill="#000" font-weight="normal" style="stroke:#000;stroke-width:0.16px">1.0</text>
<text transform="translate(358.40,219.10) rotate(-90) scale(1,1.08)" font-size="7.4" fill="#111" stroke="#111" stroke-width="0.2">OD</text>
<text transform="translate(358.40,207.60) rotate(-90) scale(1,0.78)" font-size="8.0" fill="#111" stroke="#111" stroke-width="0.3" textLength="12.7" lengthAdjust="spacingAndGlyphs">560</text>
<rect x="384.10" y="174.60" width="15.90" height="81.60" fill="#000"/>
<rect x="410.70" y="175.62" width="15.90" height="80.58" fill="#b4b4b4" stroke="#888" stroke-width="0.6"/>
<rect x="437.30" y="174.60" width="16.50" height="81.60" fill="#4a4a4a"/>
<rect x="463.90" y="174.60" width="16.70" height="81.60" fill="#dedede" stroke="#999" stroke-width="0.6"/>
<rect x="490.50" y="246.00" width="16.70" height="10.20" fill="#222"/>
<line x1="392.05" y1="174.60" x2="392.05" y2="173.58" stroke="#444" stroke-width="0.5"/>
<line x1="390.45" y1="173.58" x2="393.65" y2="173.58" stroke="#444" stroke-width="0.5"/>
<line x1="418.65" y1="175.62" x2="418.65" y2="174.60" stroke="#444" stroke-width="0.5"/>
<line x1="417.05" y1="174.60" x2="420.25" y2="174.60" stroke="#444" stroke-width="0.5"/>
<line x1="445.55" y1="174.60" x2="445.55" y2="173.58" stroke="#444" stroke-width="0.5"/>
<line x1="443.95" y1="173.58" x2="447.15" y2="173.58" stroke="#444" stroke-width="0.5"/>
<line x1="472.25" y1="174.60" x2="472.25" y2="173.58" stroke="#444" stroke-width="0.5"/>
<line x1="470.65" y1="173.58" x2="473.85" y2="173.58" stroke="#444" stroke-width="0.5"/>
<line x1="498.85" y1="246.00" x2="498.85" y2="244.98" stroke="#444" stroke-width="0.5"/>
<line x1="497.25" y1="244.98" x2="500.45" y2="244.98" stroke="#444" stroke-width="0.5"/>
<line x1="498.85" y1="246.00" x2="498.85" y2="243.45" stroke="#444" stroke-width="0.5"/>
<line x1="497.25" y1="243.45" x2="500.45" y2="243.45" stroke="#444" stroke-width="0.5"/>
<rect x="377.6" y="261.4" width="136.2" height="37.0" fill="none" stroke="#888" stroke-width="1"/>
<text class="t" x="374.20" y="267.30" font-size="4.9" text-anchor="end" fill="#222" font-weight="normal" >ER (20 μg/mL)</text>
<text class="t" x="392.30" y="267.20" font-size="4.6" text-anchor="middle" fill="#444" font-weight="normal" style="stroke-width:0.05px;stroke:#444">+</text>
<text class="t" x="419.40" y="267.20" font-size="4.6" text-anchor="middle" fill="#444" font-weight="normal" style="stroke-width:0.05px;stroke:#444">+</text>
<text class="t" x="446.20" y="267.20" font-size="4.6" text-anchor="middle" fill="#444" font-weight="normal" style="stroke-width:0.05px;stroke:#444">+</text>
<text class="t" x="472.70" y="267.20" font-size="4.6" text-anchor="middle" fill="#444" font-weight="normal" style="stroke-width:0.05px;stroke:#444">+</text>
<text class="t" x="499.50" y="267.20" font-size="4.6" text-anchor="middle" fill="#444" font-weight="normal" style="stroke-width:0.05px;stroke:#444">+</text>
<text class="t" x="374.20" y="275.00" font-size="4.9" text-anchor="end" fill="#222" font-weight="normal" >anti-α2β1 12F1</text>
<text class="t" x="392.30" y="274.90" font-size="4.6" text-anchor="middle" fill="#444" font-weight="normal" style="stroke-width:0.05px;stroke:#444">−</text>
<text class="t" x="419.40" y="274.90" font-size="4.6" text-anchor="middle" fill="#444" font-weight="normal" style="stroke-width:0.05px;stroke:#444">+</text>
<text class="t" x="446.20" y="274.90" font-size="4.6" text-anchor="middle" fill="#444" font-weight="normal" style="stroke-width:0.05px;stroke:#444">−</text>
<text class="t" x="472.70" y="274.90" font-size="4.6" text-anchor="middle" fill="#444" font-weight="normal" style="stroke-width:0.05px;stroke:#444">−</text>
<text class="t" x="499.50" y="274.90" font-size="4.6" text-anchor="middle" fill="#444" font-weight="normal" style="stroke-width:0.05px;stroke:#444">−</text>
<text class="t" x="374.20" y="281.90" font-size="4.9" text-anchor="end" fill="#222" font-weight="normal" >anti-GPVI</text>
<text class="t" x="392.30" y="281.80" font-size="4.6" text-anchor="middle" fill="#444" font-weight="normal" style="stroke-width:0.05px;stroke:#444">−</text>
<text class="t" x="419.40" y="281.80" font-size="4.6" text-anchor="middle" fill="#444" font-weight="normal" style="stroke-width:0.05px;stroke:#444">−</text>
<text class="t" x="446.20" y="281.80" font-size="4.6" text-anchor="middle" fill="#444" font-weight="normal" style="stroke-width:0.05px;stroke:#444">+</text>
<text class="t" x="472.70" y="281.80" font-size="4.6" text-anchor="middle" fill="#444" font-weight="normal" style="stroke-width:0.05px;stroke:#444">−</text>
<text class="t" x="499.50" y="281.80" font-size="4.6" text-anchor="middle" fill="#444" font-weight="normal" style="stroke-width:0.05px;stroke:#444">−</text>
<text class="t" x="374.20" y="288.90" font-size="4.9" text-anchor="end" fill="#222" font-weight="normal" >anti-αIIbβ3</text>
<text class="t" x="392.30" y="288.80" font-size="4.6" text-anchor="middle" fill="#444" font-weight="normal" style="stroke-width:0.05px;stroke:#444">−</text>
<text class="t" x="419.40" y="288.80" font-size="4.6" text-anchor="middle" fill="#444" font-weight="normal" style="stroke-width:0.05px;stroke:#444">−</text>
<text class="t" x="446.20" y="288.80" font-size="4.6" text-anchor="middle" fill="#444" font-weight="normal" style="stroke-width:0.05px;stroke:#444">−</text>
<text class="t" x="472.70" y="288.80" font-size="4.6" text-anchor="middle" fill="#444" font-weight="normal" style="stroke-width:0.05px;stroke:#444">+</text>
<text class="t" x="499.50" y="288.80" font-size="4.6" text-anchor="middle" fill="#444" font-weight="normal" style="stroke-width:0.05px;stroke:#444">−</text>
<text class="t" x="374.20" y="296.00" font-size="4.9" text-anchor="end" fill="#222" font-weight="normal" >Mg<tspan font-size="3.6" dy="-1.8">2+</tspan></text>
<text class="t" x="392.30" y="295.90" font-size="4.6" text-anchor="middle" fill="#444" font-weight="normal" style="stroke-width:0.05px;stroke:#444">+</text>
<text class="t" x="419.40" y="295.90" font-size="4.6" text-anchor="middle" fill="#444" font-weight="normal" style="stroke-width:0.05px;stroke:#444">+</text>
<text class="t" x="446.20" y="295.90" font-size="4.6" text-anchor="middle" fill="#444" font-weight="normal" style="stroke-width:0.05px;stroke:#444">+</text>
<text class="t" x="472.70" y="295.90" font-size="4.6" text-anchor="middle" fill="#444" font-weight="normal" style="stroke-width:0.05px;stroke:#444">+</text>
<text class="t" x="499.50" y="295.90" font-size="4.6" text-anchor="middle" fill="#444" font-weight="normal" style="stroke-width:0.05px;stroke:#444">−</text>
</svg>
</body></html>
